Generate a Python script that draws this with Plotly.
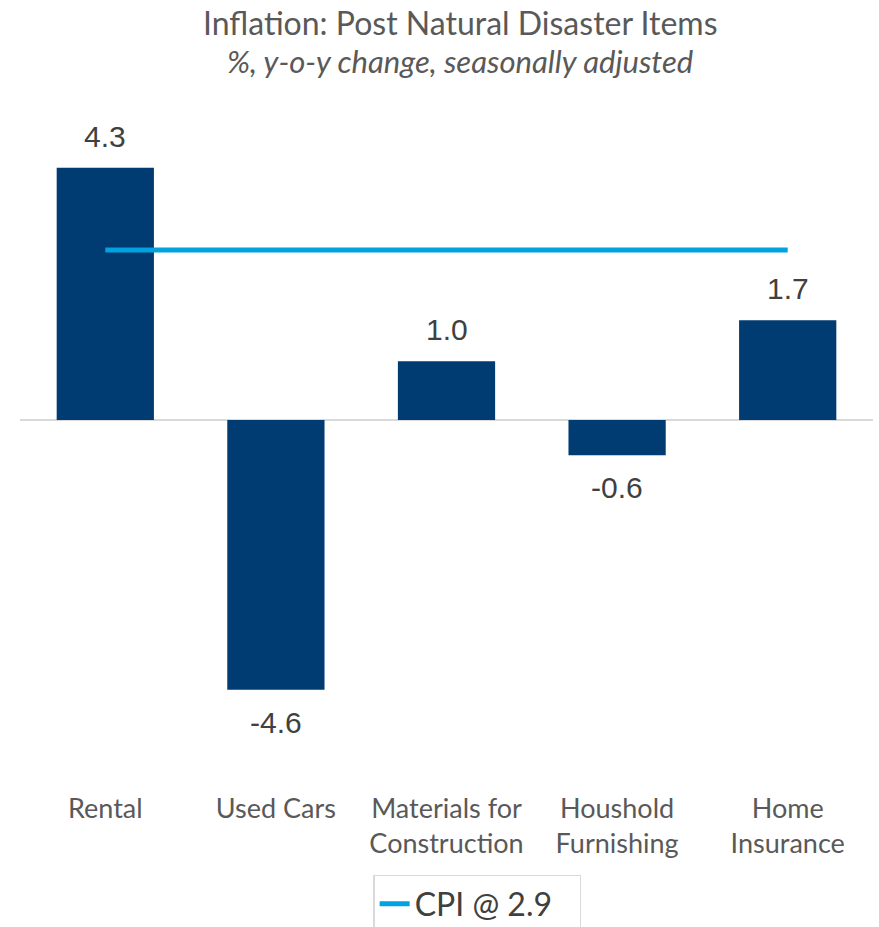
import plotly.graph_objects as go

categories = ["Rental", "Used Cars", "Materials for<br>Construction", "Houshold<br>Furnishing", "Home<br>Insurance"]
values = [4.3, -4.6, 1.0, -0.6, 1.7]
cpi_value = 2.9
cpi_label = "CPI @ 2.9"
title_line1 = "Inflation: Post Natural Disaster Items"
title_line2 = "%, y-o-y change, seasonally adjusted"

fig = go.Figure()
fig.add_trace(go.Bar(
    x=categories, y=values, marker=dict(color="#003B71", line=dict(width=0)),
    showlegend=False, hoverinfo="skip",
))
fig.add_trace(go.Scatter(
    x=categories, y=[cpi_value] * len(categories), mode="lines",
    line=dict(color="#00A3E0", width=5), name=cpi_label,
))

for c, v in zip(categories, values):
    fig.add_annotation(
        x=c, y=v, text=f"{v:.1f}", showarrow=False,
        yanchor="bottom" if v >= 0 else "top",
        yshift=13 if v >= 0 else -14,
        font=dict(family="Liberation Sans, Arial", size=30, color="#404040"),
    )

fig.add_annotation(xref="paper", yref="paper", x=0.516, y=1.113, text=title_line1,
                   showarrow=False, xanchor="center", yanchor="middle",
                   font=dict(family="Lato", size=32, color="#595959"))
fig.add_annotation(xref="paper", yref="paper", x=0.516, y=1.0565, text=f"<i>{title_line2}</i>",
                   showarrow=False, xanchor="center", yanchor="middle",
                   font=dict(family="Lato", size=31, color="#595959"))

fig.update_layout(
    width=879, height=945,
    margin=dict(l=20, r=6, t=100, b=155),
    paper_bgcolor="white", plot_bgcolor="white",
    bargap=0.43,
    font=dict(family="Lato", color="#595959"),
    legend=dict(
        orientation="h", x=0.414, xanchor="left", y=-0.123, yanchor="top",
        bordercolor="#D9D9D9", borderwidth=1.5, entrywidth=160,
        font=dict(family="Lato", size=32, color="#404040"),
    ),
)
fig.update_xaxes(showgrid=False, showline=False, ticks="",
                 tickfont=dict(family="Lato", size=27, color="#595959"),
                 ticklabelstandoff=0)
fig.update_yaxes(range=[-6.31, 5.456], showgrid=False, showticklabels=False,
                 zeroline=True, zerolinecolor="#D9D9D9", zerolinewidth=2)

fig.write_html("out.html", config={"displayModeBar": False},
               post_script="document.body.style.margin='0';document.body.style.overflow='hidden';")
